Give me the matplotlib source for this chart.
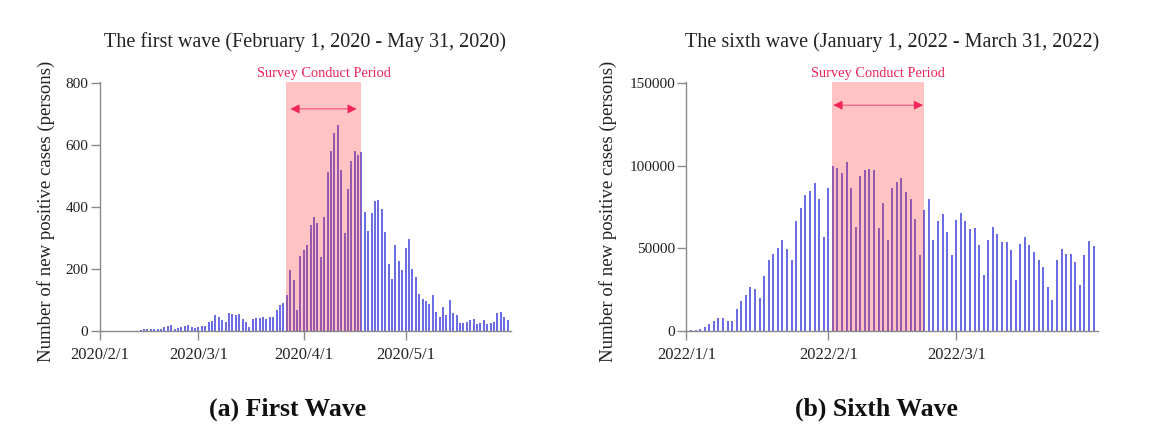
import matplotlib
matplotlib.use("Agg")
import matplotlib.pyplot as plt
import matplotlib.dates as mdates
import matplotlib.transforms as mtransforms
import pandas as pd

# ---------------- data ----------------
wave1_start = "2020-02-01"
wave1_cases = [
    # Feb 2020
    0, 0, 0, 1, 0, 0, 0, 0, 0, 0, 1, 0, 3, 6, 8, 5, 8, 7, 8, 12, 16, 19, 8, 11, 12, 16, 18, 12, 10,
    # Mar 2020
    12, 16, 16, 30, 33, 52, 44, 35, 30, 59, 55, 53, 55, 38, 30, 12, 38, 43, 41, 46, 38, 44, 46, 68,
    84, 92, 116, 197, 164, 68, 242,
    # Apr 2020
    261, 277, 342, 367, 350, 240, 369, 514, 580, 640, 665, 520, 317, 457, 550, 580, 567, 578, 384, 322,
    382, 420, 423, 393, 320, 216, 167, 277, 226, 198,
    # May 2020
    267, 298, 200, 176, 120, 103, 96, 86, 116, 62, 46, 78, 52, 100, 57, 52, 27, 27, 30, 35,
    38, 23, 25, 35, 23, 27, 30, 59, 62, 46, 35,
]
wave1_survey = ("2020-03-26 22:00", "2020-04-17 18:00")
wave1_xticks = ["2020-02-01", "2020-03-01", "2020-04-01", "2020-05-01"]
wave1_xticklabels = ["2020/2/1", "2020/3/1", "2020/4/1", "2020/5/1"]
wave1_yticks = [0, 200, 400, 600, 800]
wave1_title = "The first wave (February 1, 2020 - May 31, 2020)"

wave6_start = "2022-01-01"
wave6_cases = [
    # Jan 2022
    450, 550, 780, 1200, 2600, 4400, 6200, 8000, 7900, 6300, 6300, 13300, 18300, 21800, 26800, 25200,
    20200, 33300, 43300, 46400, 50000, 55400, 49600, 43300, 66700, 74200, 82200, 84900, 89700, 80200, 57000,
    # Feb 2022
    86900, 99700, 98900, 95700, 102400, 86900, 62700, 93700, 97700, 98000, 97400, 62100, 77600, 55000,
    86900, 90300, 92900, 84300, 80200, 68100, 46300, 73200, 80000, 55000, 66700, 71100, 60000, 46300,
    # Mar 2022
    67500, 71300, 66700, 61500, 62100, 52000, 33900, 55200, 62900, 58900, 54000, 54000, 49000, 30600,
    52600, 57000, 52000, 48000, 43300, 38700, 26400, 18900, 42900, 49400, 46600, 46600, 41900, 27800,
    46000, 54700, 51700,
]
wave6_survey = ("2022-02-01 19:00", "2022-02-22 01:00")
wave6_xticks = ["2022-01-01", "2022-02-01", "2022-03-01"]
wave6_xticklabels = ["2022/1/1", "2022/2/1", "2022/3/1"]
wave6_yticks = [0, 50000, 100000, 150000]
wave6_title = "The sixth wave (January 1, 2022 - March 31, 2022)"

survey_label = "Survey Conduct Period"
captions = ["(a) First Wave", "(b) Sixth Wave"]

# ---------------- style ----------------
SERIF = ["Liberation Serif", "DejaVu Serif"]
BAR_COLOR = "#4848dc"
AXIS_COLOR = "#8a8a8a"
RED = "#f0245a"

fig = plt.figure(figsize=(11.63, 4.28), dpi=100)
ax1 = fig.add_axes([0.0856, 0.2266, 0.3538, 0.5818])
ax2 = fig.add_axes([0.5899, 0.2266, 0.3543, 0.5818])


def draw(ax, start, cases, survey, xticks, xticklabels, yticks, ytop, title,
         arrow_y, arrow_inset, ylabel_x):
    dates = pd.date_range(start, periods=len(cases), freq="D")
    ax.vlines(dates, 0, cases, color=BAR_COLOR, lw=1.15, zorder=2)
    s0 = mdates.date2num(pd.Timestamp(survey[0]))
    s1 = mdates.date2num(pd.Timestamp(survey[1]))
    ax.axvspan(s0, s1, color="#ff2a2a", alpha=0.28, lw=0, zorder=3)

    x0 = mdates.date2num(dates[0]) - 2 / 24
    x1 = mdates.date2num(dates[-1]) + 1.0
    ax.set_xlim(x0, x1)
    ax.set_ylim(0, ytop)

    for side in ("top", "right"):
        ax.spines[side].set_visible(False)
    for side in ("left", "bottom"):
        ax.spines[side].set_color(AXIS_COLOR)
        ax.spines[side].set_linewidth(1.0)

    ax.set_xticks(mdates.date2num(pd.to_datetime(xticks)))
    ax.set_xticklabels(xticklabels, fontsize=12, family=SERIF, color="#222222")
    ax.set_yticks(yticks)
    ax.set_yticklabels([str(v) for v in yticks], fontsize=11, family=SERIF, color="#222222")
    ax.tick_params(axis="x", direction="out", length=6.5, width=1.0, color=AXIS_COLOR, pad=5)
    ax.tick_params(axis="y", direction="out", length=6.5, width=1.0, color=AXIS_COLOR, pad=1.5)

    ax.set_ylabel("Number of new positive cases (persons)", fontsize=13.5, family=SERIF,
                  color="#222222")
    ax.yaxis.set_label_coords(ylabel_x, 0.48)

    ax.text(0.5, 1.16, title, transform=ax.transAxes, ha="center", va="center",
            fontsize=14.5, family=SERIF, color="#222222")

    trans = mtransforms.blended_transform_factory(ax.transData, ax.transAxes)
    mid = (s0 + s1) / 2
    ax.text(mid, 1.036, survey_label, transform=trans, ha="center", va="center",
            fontsize=10.4, family=SERIF, color=RED, clip_on=False)
    inset = arrow_inset / 24
    ax.annotate("", xy=(s0 + inset, arrow_y), xytext=(s1 - inset, arrow_y),
                xycoords=trans, textcoords=trans,
                arrowprops=dict(arrowstyle="<|-|>", color=RED, lw=0.6,
                                mutation_scale=14, shrinkA=0, shrinkB=0),
                zorder=4)


draw(ax1, wave1_start, wave1_cases, wave1_survey, wave1_xticks, wave1_xticklabels,
     wave1_yticks, 804, wave1_title, 0.892, 28, -0.108)
draw(ax2, wave6_start, wave6_cases, wave6_survey, wave6_xticks, wave6_xticklabels,
     wave6_yticks, 150800, wave6_title, 0.907, 8, -0.167)

fig.text(0.2476, 0.044, captions[0], ha="center", va="center", fontsize=18.5,
         fontweight="bold", family=SERIF, color="#111111")
fig.text(0.754, 0.044, captions[1], ha="center", va="center", fontsize=18.5,
         fontweight="bold", family=SERIF, color="#111111")

fig.savefig("out.png", dpi=100)
